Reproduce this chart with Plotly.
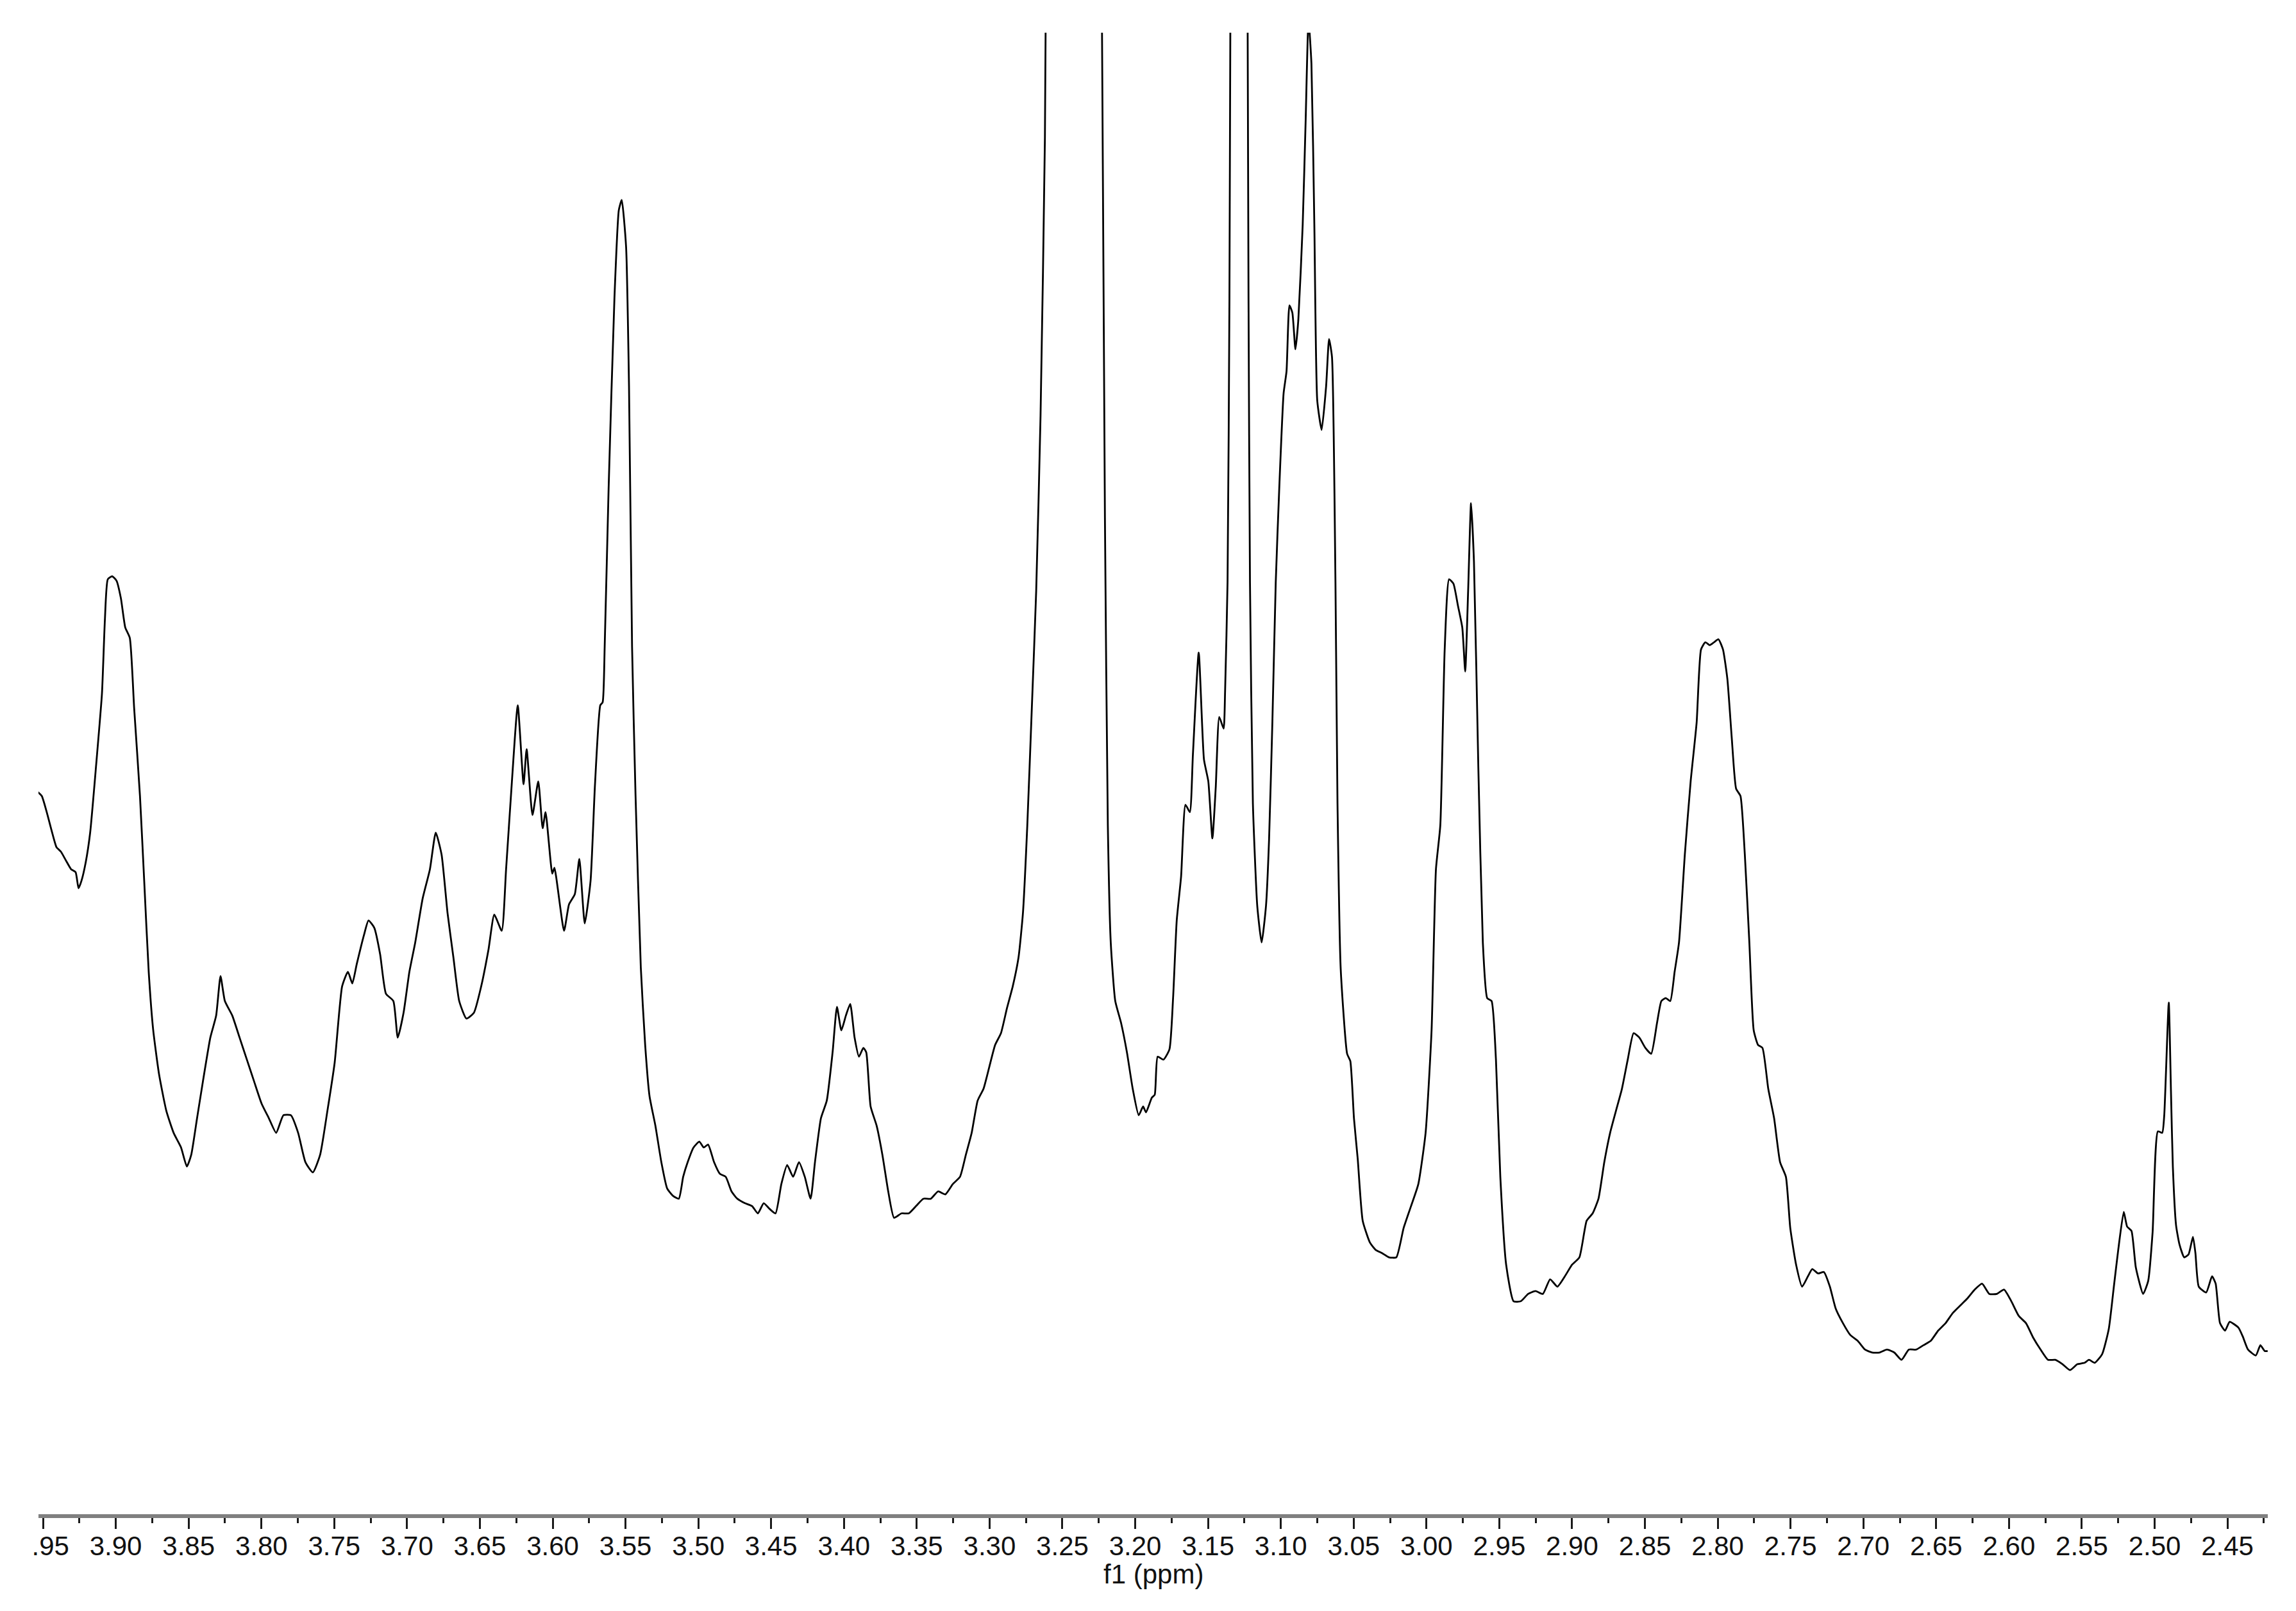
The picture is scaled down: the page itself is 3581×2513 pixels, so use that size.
import plotly.graph_objects as go

# ---- spectrum data (chemical shift in ppm, intensity in arbitrary units) ----
ppm_a = [3.9538, 3.9508, 3.9477, 3.9437, 3.9407, 3.9377, 3.9337, 3.9307, 3.9276, 3.9256,
         3.9236, 3.9206, 3.9176, 3.9136, 3.9095, 3.9075, 3.9055, 3.9025, 3.8995, 3.8965,
         3.8935, 3.8904, 3.8874, 3.8834, 3.8804, 3.8774, 3.8743, 3.8703, 3.8653, 3.8603,
         3.8552, 3.8512, 3.8482, 3.8442, 3.8402, 3.8351, 3.8311, 3.8281, 3.8251, 3.8200,
         3.8150, 3.8100, 3.8050, 3.7999, 3.7949, 3.7899, 3.7849, 3.7798, 3.7748, 3.7698,
         3.7647, 3.7597, 3.7547, 3.7497, 3.7446, 3.7406, 3.7376, 3.7346, 3.7296, 3.7265,
         3.7225, 3.7185, 3.7145, 3.7094, 3.7064, 3.7024, 3.6984, 3.6944, 3.6893, 3.6843,
         3.6803, 3.6763, 3.6722, 3.6682, 3.6642, 3.6592, 3.6541, 3.6491, 3.6441, 3.6401,
         3.6350, 3.6320, 3.6280, 3.6240, 3.6200, 3.6179, 3.6139, 3.6099, 3.6069, 3.6049,
         3.6003, 3.5988, 3.5922, 3.5888, 3.5848, 3.5817, 3.5780, 3.5740, 3.5710, 3.5673,
         3.5657]
int_a = [495, 492, 482, 467, 457, 454, 447, 442, 440, 429,
         434, 447, 467, 512, 562, 612, 640, 642, 639, 627,
         607, 600, 552, 492, 432, 372, 332, 302, 277, 262,
         252, 239, 247, 272, 297, 327, 342, 369, 352, 342,
         327, 312, 297, 282, 272, 262, 274, 274, 262, 242,
         235, 247, 277, 310, 362, 372, 364, 377, 397, 407,
         402, 384, 357, 352, 327, 344, 372, 392, 422, 442,
         467, 452, 412, 382, 352, 340, 344, 362, 387, 411,
         400, 442, 502, 554, 500, 524, 479, 502, 470, 481,
         439, 443, 400, 418, 425, 449, 405, 434, 499, 554,
         556]

ppm_b = [3.5643, 3.5616, 3.5576, 3.5546, 3.5526, 3.5496, 3.5476, 3.5455, 3.5431, 3.5395,
         3.5365, 3.5335, 3.5295, 3.5254, 3.5214, 3.5174, 3.5134, 3.5104, 3.5073, 3.5033,
         3.4993, 3.4963, 3.4933, 3.4892, 3.4852, 3.4812, 3.4772, 3.4732, 3.4681, 3.4631,
         3.4591, 3.4551, 3.4510, 3.4470, 3.4430, 3.4390, 3.4349, 3.4309, 3.4269, 3.4229,
         3.4199, 3.4158, 3.4118, 3.4078, 3.4048, 3.4018, 3.3987, 3.3957, 3.3927, 3.3897,
         3.3867, 3.3847, 3.3817, 3.3776, 3.3736, 3.3696, 3.3656, 3.3605, 3.3555, 3.3505,
         3.3455, 3.3404, 3.3354, 3.3304, 3.3253, 3.3203, 3.3163, 3.3123, 3.3082, 3.3042,
         3.3002, 3.2962, 3.2922, 3.2881, 3.2841, 3.2801, 3.2771, 3.2741, 3.2710]
int_b = [594, 702, 832, 892, 899, 867, 772, 594, 492, 375,
         322, 287, 267, 242, 224, 219, 217, 232, 242, 252,
         256, 252, 254, 242, 234, 232, 222, 217, 214, 212,
         207, 214, 210, 207, 227, 240, 232, 242, 232, 217,
         242, 272, 284, 317, 348, 332, 342, 350, 327, 314,
         320, 317, 280, 267, 247, 222, 204, 207, 207, 212,
         217, 217, 222, 220, 227, 232, 247, 262, 284, 292,
         307, 322, 330, 347, 362, 382, 412, 472, 552]

ppm_c = [3.2680, 3.2650, 3.2620, 3.2590, 3.2519, 3.2439, 3.2359, 3.2288, 3.2258, 3.2228,
         3.2208, 3.2188, 3.2168, 3.2137, 3.2097, 3.2057, 3.2017, 3.1976, 3.1946, 3.1926,
         3.1886, 3.1866, 3.1846, 3.1806, 3.1765, 3.1740, 3.1715, 3.1685, 3.1655, 3.1625,
         3.1604, 3.1564, 3.1528, 3.1498, 3.1470, 3.1447, 3.1423, 3.1393, 3.1383, 3.1366,
         3.1353, 3.1333, 3.1293, 3.1242, 3.1222]
int_c = [632, 752, 942, 1432, 2532, 3232, 2532, 1432, 1332, 1014,
         682, 472, 392, 352, 337, 317, 292, 274, 280, 276,
         286, 288, 314, 312, 319, 354, 407, 437, 486, 481,
         520, 590, 517, 502, 463, 498, 546, 538, 563, 638,
         832, 1432, 2232, 1432, 832]

ppm_d = [3.1212, 3.1192, 3.1162, 3.1132, 3.1102, 3.1081, 3.1058, 3.1035, 3.1011, 3.0981,
         3.0961, 3.0941, 3.0921, 3.0900, 3.0880, 3.0850, 3.0830, 3.0810, 3.0790, 3.0770,
         3.0750, 3.0720, 3.0689, 3.0669, 3.0649, 3.0625, 3.0611, 3.0589, 3.0545, 3.0523,
         3.0498, 3.0472, 3.0438, 3.0388, 3.0348, 3.0307, 3.0257, 3.0207, 3.0157, 3.0106,
         3.0056, 3.0006, 2.9965, 2.9935, 2.9905, 2.9875, 2.9845, 2.9815, 2.9784, 2.9754,
         2.9734, 2.9714, 2.9694, 2.9674, 2.9644]
int_d = [638, 487, 417, 392, 417, 462, 543, 638, 702, 767,
         782, 827, 822, 797, 817, 882, 952, 1022, 992, 882,
         762, 742, 772, 804, 792, 638, 487, 374, 316, 311,
         272, 244, 202, 187, 182, 180, 177, 177, 197, 212,
         227, 262, 332, 442, 472, 592, 640, 637, 622, 607,
         577, 632, 692, 652, 512]

ppm_e = [2.9613, 2.9583, 2.9553, 2.9523, 2.9493, 2.9453, 2.9402, 2.9352, 2.9302, 2.9252,
         2.9201, 2.9151, 2.9101, 2.9050, 2.9000, 2.8950, 2.8900, 2.8859, 2.8819, 2.8779,
         2.8739, 2.8699, 2.8658, 2.8618, 2.8578, 2.8538, 2.8497, 2.8457, 2.8417, 2.8387,
         2.8357, 2.8326, 2.8296, 2.8266, 2.8226, 2.8186, 2.8145, 2.8115, 2.8085, 2.8055,
         2.8025, 2.7995, 2.7964, 2.7934, 2.7904, 2.7874, 2.7844, 2.7814, 2.7783, 2.7753,
         2.7723, 2.7693, 2.7653, 2.7613, 2.7572, 2.7532, 2.7502, 2.7462, 2.7421, 2.7381,
         2.7351, 2.7311, 2.7271, 2.7230, 2.7190, 2.7140, 2.7090, 2.7039, 2.6989, 2.6939,
         2.6889, 2.6838, 2.6788, 2.6738, 2.6688]
int_e = [392, 354, 352, 312, 232, 172, 147, 147, 152, 154,
         152, 162, 157, 164, 172, 177, 202, 207, 217, 242,
         262, 277, 292, 312, 330, 327, 320, 316, 337, 352,
         354, 352, 372, 392, 452, 502, 542, 592, 597, 595,
         597, 599, 592, 572, 532, 497, 492, 452, 392, 332,
         322, 320, 292, 272, 242, 232, 197, 172, 157, 164,
         169, 166, 167, 157, 142, 132, 124, 120, 114, 112,
         112, 114, 112, 107, 114]

ppm_f = [2.6637, 2.6587, 2.6537, 2.6486, 2.6436, 2.6386, 2.6336, 2.6285, 2.6235, 2.6185,
         2.6135, 2.6084, 2.6034, 2.5984, 2.5933, 2.5883, 2.5833, 2.5783, 2.5732, 2.5682,
         2.5632, 2.5581, 2.5531, 2.5481, 2.5451, 2.5411, 2.5360, 2.5315, 2.5280, 2.5250,
         2.5212, 2.5189, 2.5159, 2.5129, 2.5079, 2.5044, 2.5014, 2.4978, 2.4948, 2.4934,
         2.4903, 2.4888, 2.4875, 2.4853, 2.4830, 2.4797, 2.4767, 2.4737, 2.4720, 2.4697,
         2.4646, 2.4606, 2.4581, 2.4551, 2.4516, 2.4485, 2.4425, 2.4395, 2.4359, 2.4305,
         2.4274, 2.4244, 2.4224]
int_f = [114, 117, 120, 127, 132, 139, 144, 149, 155, 159,
         152, 152, 155, 147, 137, 132, 122, 114, 107, 107,
         104, 100, 104, 105, 107, 105, 111, 128, 157, 182,
         208, 198, 195, 170, 152, 161, 194, 263, 262, 274,
         351, 291, 239, 199, 186, 177, 179, 191, 180, 157,
         153, 164, 159, 132, 127, 133, 129, 123, 114, 110,
         117, 113, 113]

ppm_segments = [ppm_a, ppm_b, ppm_c, ppm_d, ppm_e, ppm_f]
int_segments = [int_a, int_b, int_c, int_d, int_e, int_f]

x_title = "f1 (ppm)"
x_range = [3.9531, 2.4223]
y_range = [1.6, 1013.2]

ppm = []
intensity = []
for p_seg, i_seg in zip(ppm_segments, int_segments):
    assert len(p_seg) == len(i_seg)
    ppm.extend(p_seg)
    intensity.extend(i_seg)

W, H = 3581, 2513
fig = go.Figure()
fig.add_trace(go.Scatter(
    x=ppm, y=intensity, mode="lines",
    line=dict(color="#000000", width=2.8, shape="spline", smoothing=0.5),
    showlegend=False, hoverinfo="skip",
))

font_family = "Liberation Sans, Arial, sans-serif"
fig.update_layout(
    width=W, height=H, autosize=False,
    paper_bgcolor="white", plot_bgcolor="white",
    margin=dict(l=52, r=52, t=43, b=159, pad=0),
    showlegend=False,
    xaxis=dict(
        range=x_range,
        showgrid=False, zeroline=False,
        showline=True, linecolor="#808080", linewidth=6,
        ticks="outside", ticklen=17, tickwidth=3, tickcolor="#1a1a1a",
        tick0=0, dtick=0.05, tickformat=".2f",
        ticklabelstandoff=-9,
        minor=dict(ticks="outside", ticklen=8, tickwidth=3, tickcolor="#1a1a1a",
                   dtick=0.025, tick0=0, showgrid=False),
        tickfont=dict(family=font_family, size=42, color="#111111"),
    ),
    yaxis=dict(
        range=y_range, visible=False, showgrid=False, zeroline=False,
    ),
    annotations=[
        dict(text=x_title, xref="paper", yref="paper", x=0.5, y=-0.0405,
             xanchor="center", yanchor="middle", showarrow=False,
             font=dict(family=font_family, size=42, color="#111111")),
    ],
    shapes=[
        dict(type="rect", xref="paper", yref="paper",
             x0=-0.02, x1=-0.0023, y0=-0.04, y1=-0.006,
             fillcolor="white", line=dict(width=0), layer="above"),
    ],
)

fig.write_html("out.html")
